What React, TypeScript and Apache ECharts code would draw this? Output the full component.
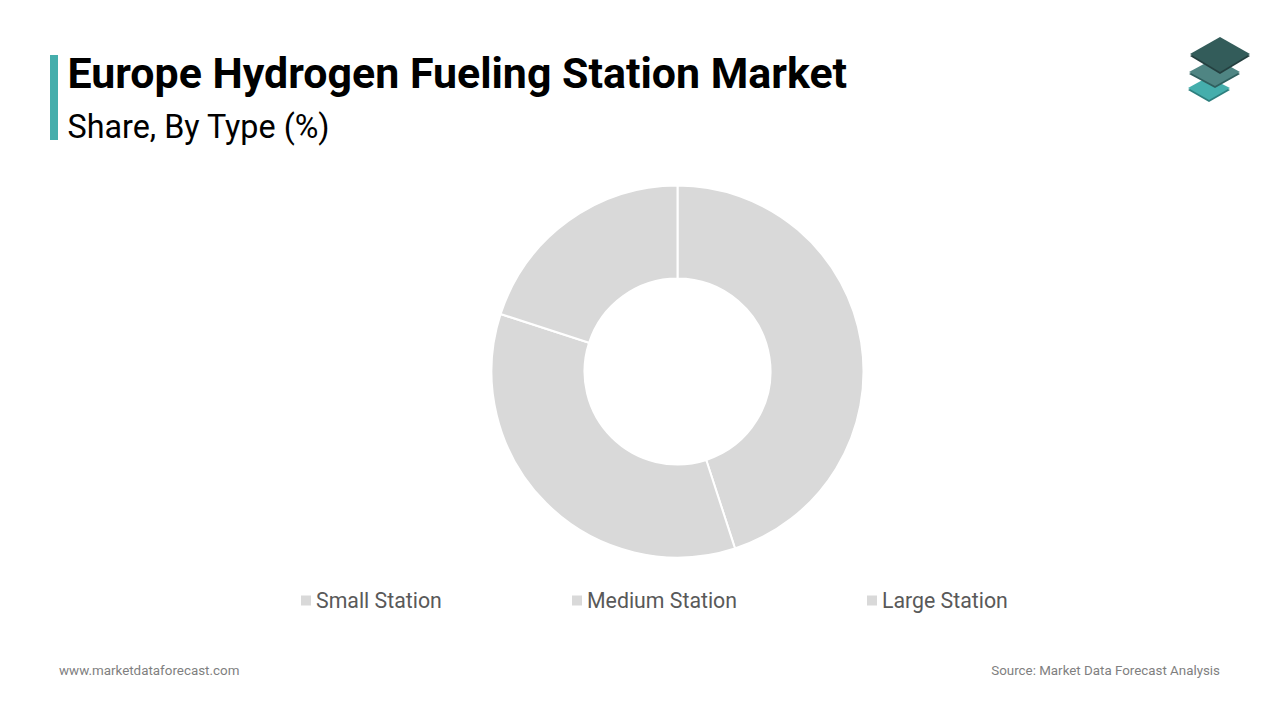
import React, { useEffect, useRef } from "react";
import * as echarts from "echarts";

const titleText = "Europe Hydrogen Fueling Station Market";
const subtitleText = "Share, By Type (%)";
const footerLeft = "www.marketdataforecast.com";
const footerRight = "Source: Market Data Forecast Analysis";
const categories = ["Small Station", "Medium Station", "Large Station"];
const shares = [45, 35, 20];
const legendLefts = [299, 570, 865];

export default function App() {
  const ref = useRef<HTMLDivElement>(null);
  useEffect(() => {
    document.body.style.margin = "0";
    const chart = echarts.init(ref.current!, null, { renderer: "svg" });
    chart.setOption({
      animation: false,
      backgroundColor: "#ffffff",
      legend: categories.map((name, i) => ({
        show: true,
        data: [{ name, icon: "rect" }],
        left: legendLefts[i],
        top: 590,
        padding: 0,
        itemWidth: 12,
        itemHeight: 12,
        itemGap: 5,
        selectedMode: false,
        textStyle: { fontFamily: "Roboto", fontSize: 21.3, color: "#595959", padding: [0, 0, 0, -1] },
      })),
      series: [
        {
          type: "pie",
          center: [677.5, 371.5],
          radius: [93, 186],
          startAngle: 90,
          clockwise: true,
          silent: true,
          label: { show: false },
          labelLine: { show: false },
          itemStyle: { color: "#d9d9d9", borderColor: "#ffffff", borderWidth: 2 },
          data: categories.map((name, i) => ({ name, value: shares[i] })),
        },
      ],
      graphic: [
        { type: "rect", shape: { x: 50, y: 55, width: 8, height: 85 }, style: { fill: "#45aeac" } },
        {
          type: "text",
          style: { x: 67.5, y: 73, text: titleText, fill: "#000000", font: "700 42.9px Roboto", textVerticalAlign: "middle" },
        },
        {
          type: "text",
          style: { x: 67.5, y: 127, text: subtitleText, fill: "#000000", font: "400 32.3px Roboto", textVerticalAlign: "middle" },
        },
        {
          type: "text",
          style: { x: 59, y: 670, text: footerLeft, fill: "#7f7f7f", font: "400 13.4px Roboto", textVerticalAlign: "middle" },
        },
        {
          type: "text",
          style: { x: 1220, y: 670, text: footerRight, fill: "#7f7f7f", font: "400 13.35px Roboto", textAlign: "right", textVerticalAlign: "middle" },
        },
        { type: "polygon", shape: { points: [[1188, 90], [1208, 79], [1230, 90], [1209, 102]] }, style: { fill: "#2d7f7e" } },
        { type: "polygon", shape: { points: [[1188, 88], [1208, 77], [1230, 88], [1209, 100]] }, style: { fill: "#45aeac" } },
        { type: "polygon", shape: { points: [[1189, 74], [1215, 60], [1240, 74], [1215, 88]] }, style: { fill: "#2f5f5e" } },
        { type: "polygon", shape: { points: [[1189, 72], [1215, 58], [1240, 72], [1215, 86]] }, style: { fill: "#4f8583" } },
        { type: "polygon", shape: { points: [[1190, 56], [1220, 40], [1250, 56], [1220, 74]] }, style: { fill: "#243f3f" } },
        { type: "polygon", shape: { points: [[1190, 54], [1220, 37], [1250, 54], [1220, 72]] }, style: { fill: "#335c5a" } },
      ],
    });
    return () => chart.dispose();
  }, []);
  return <div ref={ref} style={{ width: 1280, height: 720 }} />;
}
